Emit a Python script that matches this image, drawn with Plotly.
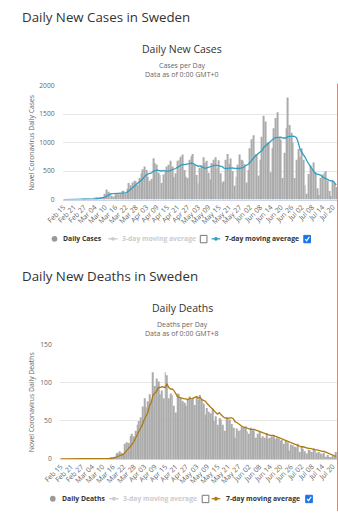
import plotly.graph_objects as go
import pandas as pd

W, H = 338, 515

# ---------------- data ----------------
start_date = "2020-02-15"
end_date = "2020-07-22"

daily_cases = [
    0, 0, 0, 0, 0, 0, 0,
    0, 0, 0, 0, 1, 5, 1,
    5, 2, 0, 15, 21, 42, 34,
    24, 42, 45, 100, 178, 138, 120,
    65, 55, 85, 110, 95, 105, 155,
    150, 100, 190, 290, 250, 300, 330,
    320, 260, 380, 460, 530, 580, 520,
    400, 330, 360, 725, 640, 615, 470,
    430, 290, 440, 490, 580, 610, 680,
    580, 390, 460, 680, 700, 750, 790,
    520, 400, 380, 700, 760, 800, 620,
    430, 280, 560, 600, 740, 640, 680,
    470, 350, 640, 700, 740, 550, 690,
    460, 300, 320, 700, 800, 630, 720,
    500, 240, 400, 610, 790, 700, 680,
    620, 300, 520, 900, 1060, 1130, 800,
    800, 420, 700, 1100, 1470, 1370, 1000,
    1000, 480, 900, 1250, 1430, 1530, 1080,
    1050, 380, 820, 1250, 1790, 1310, 1170,
    1000, 380, 700, 885, 750, 900, 700,
    250, 100, 450, 600, 520, 650, 480,
    200, 80, 380, 440, 470, 500, 330,
    150, 60, 330, 280, 220,
]

cases_ma7 = [
    0, 0, 0, 0, 0, 0, 0,
    0, 0, 0, 0, 0.1, 0.9, 1,
    1.7, 1.9, 1.9, 4, 7, 12, 17,
    20, 25, 32, 40, 60, 78, 96,
    102, 105, 106, 107, 109, 109, 104,
    110, 117, 130, 156, 177, 205, 230,
    254, 277, 304, 329, 366, 405, 436,
    449, 459, 466, 494, 510, 516, 512,
    507, 501, 512, 500, 495, 498, 508,
    519, 534, 545, 565, 581, 601, 616,
    612, 615, 618, 630, 640, 635, 615,
    600, 585, 590, 574, 560, 548, 557,
    563, 573, 584, 598, 605, 600, 592,
    584, 577, 550, 545, 545, 551, 555,
    556, 548, 545, 540, 545, 555, 560,
    585, 600, 620, 650, 690, 741, 760,
    785, 805, 830, 860, 914, 943, 971,
    1000, 1029, 1050, 1075, 1086, 1092, 1098,
    1094, 1080, 1075, 1080, 1103, 1108, 1115,
    1112, 1105, 1086, 1000, 885, 830, 790,
    741, 680, 620, 580, 540, 490, 455,
    448, 440, 430, 397, 380, 360, 339,
    335, 330, 327, 295, 253,
]

daily_deaths = [
    0, 0, 0, 0, 0, 0, 0,
    0, 0, 0, 0, 0, 0, 0,
    0, 0, 0, 0, 0, 0, 0,
    0, 0, 0, 0, 1, 0, 1,
    1, 2, 2, 3, 7, 8, 10,
    8, 5, 20, 22, 21, 30, 33,
    30, 37, 45, 50, 55, 69, 80,
    68, 76, 85, 78, 114, 96, 106,
    102, 85, 90, 80, 114, 110, 80,
    86, 84, 70, 61, 86, 85, 80,
    76, 74, 70, 78, 82, 78, 80,
    71, 82, 78, 84, 78, 73, 58,
    67, 62, 60, 66, 50, 56, 45,
    54, 52, 45, 37, 55, 52, 52,
    46, 41, 28, 40, 37, 38, 43,
    42, 43, 36, 33, 41, 39, 37,
    28, 33, 36, 28, 30, 28, 34,
    27, 28, 30, 31, 26, 28, 27,
    24, 25, 20, 24, 22, 11, 19,
    18, 16, 15, 20, 9, 16, 13,
    10, 7, 12, 11, 9, 14, 11,
    8, 9, 7, 6, 8, 3, 5,
    2, 2, 4, 3, 9,
]

deaths_ma7 = [
    0, 0, 0, 0, 0, 0, 0,
    0, 0, 0, 0, 0, 0, 0,
    0, 0, 0, 0, 0, 0, 0,
    0, 0, 0, 0, 0.1, 0.1, 0.3,
    0.4, 0.7, 1, 1.4, 2.4, 3.5, 4.7,
    5.4, 6, 8.6, 11, 13, 16.6, 19,
    23, 27.6, 31, 35, 40, 46, 52,
    57, 61, 70, 75, 84, 86, 89,
    94, 94, 95, 94, 94, 99, 94,
    92, 92, 90, 86, 82, 81, 80,
    79, 79, 79, 78, 80, 79, 80,
    81, 82, 80, 81, 78, 77, 76,
    73, 70, 68, 66, 63, 61, 59,
    61, 58, 56, 54, 54, 53, 54,
    54, 53, 49, 48, 46, 44, 43,
    42, 41, 40, 40, 39, 39, 39,
    38, 37, 36, 35, 34, 33, 33,
    32, 31, 31, 31, 30, 29, 28,
    28, 27, 26, 25, 24, 22, 21,
    20, 19, 18, 18, 17, 16, 16,
    15, 15, 14, 14, 13, 12, 12,
    12, 11, 11, 10, 10, 9, 8,
    7, 5, 5, 4, 3.5,
]

dates = pd.date_range(start_date, end_date, freq="D")

# ---------------- styles ----------------
FONT = "Open Sans"
BAR = "#ababab"
CASE_LINE = "#2f9fc1"
DEATH_LINE = "#ae7a12"
GRID = "#e6e6e6"
TXT = "#333333"
SUB = "#666666"


def px(x):
    return x / W


def py(y):
    return 1 - y / H


fig = go.Figure()

fig.add_trace(go.Bar(x=dates, y=daily_cases, marker=dict(color=BAR, line=dict(width=0)),
                     xaxis="x", yaxis="y", showlegend=False, hoverinfo="skip"))
fig.add_trace(go.Scatter(x=dates, y=cases_ma7, mode="lines", line=dict(color=CASE_LINE, width=1.3),
                         xaxis="x", yaxis="y", showlegend=False, hoverinfo="skip"))
fig.add_trace(go.Bar(x=dates, y=daily_deaths, marker=dict(color=BAR, line=dict(width=0)),
                     xaxis="x2", yaxis="y2", showlegend=False, hoverinfo="skip"))
fig.add_trace(go.Scatter(x=dates, y=deaths_ma7, mode="lines", line=dict(color=DEATH_LINE, width=1.3),
                         xaxis="x2", yaxis="y2", showlegend=False, hoverinfo="skip"))

xrange = [pd.Timestamp(start_date) - pd.Timedelta(hours=12), pd.Timestamp(end_date) + pd.Timedelta(hours=12)]
xcommon = dict(type="date", range=xrange, tick0=start_date, dtick=6 * 86400000, tickformat="%b %d",
               tickangle=-45, tickfont=dict(family=FONT, size=7, color=SUB), showgrid=False,
               zeroline=False, showline=True, linecolor="#ccd6eb", linewidth=1, ticks="", fixedrange=True)
ycommon = dict(showgrid=True, gridcolor=GRID, gridwidth=1, zeroline=False, showline=False, ticks="",
               tickfont=dict(family=FONT, size=6.7, color=SUB), ticklabelstandoff=7, fixedrange=True)

annotations = []
shapes = []


def text(x, y, s, size, color=TXT, anchor="left", bold=False, angle=0):
    if bold:
        s = "<b>" + s + "</b>"
    annotations.append(dict(x=px(x), y=py(y), xref="paper", yref="paper", text=s, showarrow=False,
                            xanchor=anchor, yanchor="middle", textangle=angle,
                            font=dict(family=FONT, size=size, color=color)))


def legend(yc, bar_x, label1, lab1_x, m3_x0, m3_x1, lab3_x, cb_x, m7_x0, m7_x1, lab7_x, line_color, ck_x):
    r = 3
    shapes.append(dict(type="circle", xref="paper", yref="paper", x0=px(bar_x - r), x1=px(bar_x + r),
                       y0=py(yc + r), y1=py(yc - r), fillcolor="#999999", line=dict(width=0)))
    text(lab1_x, yc, label1, 6.8, TXT, bold=True)
    # 3-day (inactive)
    shapes.append(dict(type="line", xref="paper", yref="paper", x0=px(m3_x0), x1=px(m3_x1),
                       y0=py(yc), y1=py(yc), line=dict(color="#cccccc", width=1.3)))
    mc = (m3_x0 + m3_x1) / 2
    shapes.append(dict(type="circle", xref="paper", yref="paper", x0=px(mc - 2), x1=px(mc + 2),
                       y0=py(yc + 2), y1=py(yc - 2), fillcolor="#cccccc", line=dict(width=0)))
    text(lab3_x, yc, "3-day moving average", 6.8, "#cccccc", bold=True)
    # empty checkbox
    shapes.append(dict(type="rect", xref="paper", yref="paper", x0=px(cb_x), x1=px(cb_x + 7),
                       y0=py(yc + 4), y1=py(yc - 3.5), fillcolor="white", line=dict(color="#767676", width=1)))
    # 7-day
    shapes.append(dict(type="line", xref="paper", yref="paper", x0=px(m7_x0), x1=px(m7_x1),
                       y0=py(yc), y1=py(yc), line=dict(color=line_color, width=1.3)))
    mc = (m7_x0 + m7_x1) / 2
    shapes.append(dict(type="circle", xref="paper", yref="paper", x0=px(mc - 2), x1=px(mc + 2),
                       y0=py(yc + 2), y1=py(yc - 2), fillcolor=line_color, line=dict(width=0)))
    text(lab7_x, yc, "7-day moving average", 6.8, TXT, bold=True)
    # checked box
    shapes.append(dict(type="rect", xref="paper", yref="paper", x0=px(ck_x), x1=px(ck_x + 7),
                       y0=py(yc + 4), y1=py(yc - 3.5), fillcolor="#1a73e8", line=dict(color="#1a73e8", width=1)))
    path = "M {} {} L {} {} L {} {}".format(px(ck_x + 1.5), py(yc + 0.3), px(ck_x + 3), py(yc + 2),
                                              px(ck_x + 5.8), py(yc - 2))
    shapes.append(dict(type="path", xref="paper", yref="paper", path=path,
                       line=dict(color="white", width=1.2)))


# page headings
text(3, 12, "Daily New Cases in Sweden", 13.3, TXT)
text(3, 276, "Daily New Deaths in Sweden", 13.3, TXT)
# chart titles
text(174, 44.5, "Daily New Cases", 10.5, TXT, anchor="center")
text(174, 62, "Cases per Day", 7, SUB, anchor="center")
text(174, 71, "Data as of 0:00 GMT+0", 7, SUB, anchor="center")
text(174, 308, "Daily Deaths", 10.5, TXT, anchor="center")
text(174, 325.5, "Deaths per Day", 7, SUB, anchor="center")
text(174, 334, "Data as of 0:00 GMT+8", 7, SUB, anchor="center")
# axis titles
text(15, 140, "Novel Coronavirus Daily Cases", 6.8, SUB, anchor="center", angle=-90)
text(16, 404, "Novel Coronavirus Daily Deaths", 6.8, SUB, anchor="center", angle=-90)

legend(238, 39.5, "Daily Cases", 46, 96, 106, 108, 193, 205, 214, 217, CASE_LINE, 302)
legend(502.5, 37.7, "Daily Deaths", 45, 97, 107, 110, 195, 205, 214, 218, DEATH_LINE, 304)

# right page border line
shapes.append(dict(type="line", xref="paper", yref="paper", x0=px(337.5), x1=px(337.5),
                   y0=py(80), y1=py(515), line=dict(color="#ef7777", width=1)))

fig.update_layout(
    width=W, height=H, margin=dict(l=0, r=0, t=0, b=0),
    paper_bgcolor="white", plot_bgcolor="white",
    bargap=0.45, showlegend=False,
    xaxis=dict(domain=[px(48), px(337)], anchor="y", **xcommon),
    yaxis=dict(domain=[py(198), py(82)], anchor="x", range=[0, 2000],
               tickvals=[0, 500, 1000, 1500, 2000], **ycommon),
    xaxis2=dict(domain=[px(45), px(337)], anchor="y2", **xcommon),
    yaxis2=dict(domain=[py(462), py(346)], anchor="x2", range=[0, 150],
                tickvals=[0, 50, 100, 150], **ycommon),
    annotations=annotations, shapes=shapes,
)

fig.write_html("out.html", config={"displayModeBar": False})
